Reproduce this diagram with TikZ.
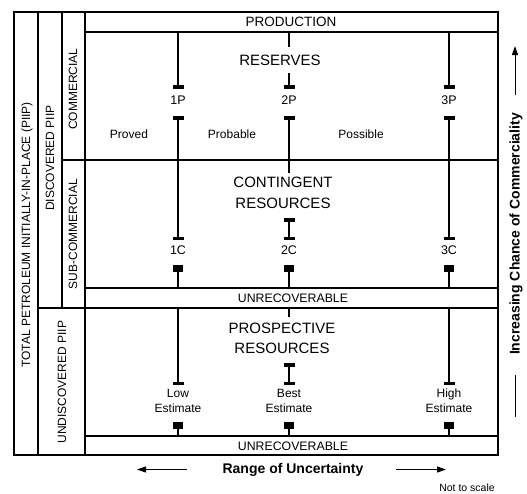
\documentclass[tikz,border=0pt]{standalone}
\usepackage{fontspec}
\setmainfont{Liberation Sans}
\usetikzlibrary{arrows.meta}
\begin{document}
\begin{tikzpicture}[x=1pt,y=-1pt,
  frame/.style={line width=1.6pt},
  bar/.style={line width=2pt},
  txt/.style={inner sep=0pt, font=\fontsize{12}{15}\selectfont, align=center},
  side/.style={inner sep=0pt, rotate=90, font=\fontsize{12}{14}\selectfont},
  big/.style={inner sep=0pt, font=\fontsize{15}{20.5}\selectfont, align=center},
  head/.style={inner sep=0pt, font=\fontsize{12.3}{14}\selectfont},
  bold14/.style={inner sep=0pt, font=\fontsize{14}{16}\selectfont\bfseries},
  arr/.style={line width=1pt, -{Triangle[length=9pt,width=6pt]}},
  capA/.pic={\fill (-5.5,-2) rectangle (5.5,2);},
  capT/.pic={\fill (-5.5,-1.5) rectangle (5.5,1.5);},
  capB/.pic={\fill (-5,-3.5) rectangle (5,3.5);}
]
\useasboundingbox (0,0) rectangle (527,493);

% frame
\draw[frame] (14,12) rectangle (498,455);
\draw[frame] (38,12) -- (38,455);
\draw[frame] (62,12) -- (62,308);
\draw[frame] (85,12) -- (85,455);
\draw[frame] (85,32) -- (498,32);
\draw[frame] (62,160) -- (498,160);
\draw[frame] (85,288) -- (498,288);
\draw[frame] (38,308) -- (498,308);
\draw[frame] (85,436) -- (498,436);

% side labels
\node[side] (piip) at (27,235) {TOTAL PETROLEUM INITIALLY-IN-PLACE (PIIP)};
\node[side] (disc) at (50,158) {DISCOVERED PIIP};
\node[side] (comm) at (73,89) {COMMERCIAL};
\node[side] (subc) at (73,234) {SUB-COMMERCIAL};
\node[side] (undisc) at (62,382) {UNDISCOVERED PIIP};

% row headers
\node[head, font=\fontsize{13.5}{15}\selectfont] (prod) at (291,22) {PRODUCTION};
\node[head] (unrec1) at (293,298) {UNRECOVERABLE};
\node[head] (unrec2) at (293,446) {UNRECOVERABLE};

% class labels
\node[big] (res) at (280,60) {RESERVES};
\node[big] (cont) at (283,193) {CONTINGENT\\RESOURCES};
\node[big] (prosp) at (282,338.5) {PROSPECTIVE\\RESOURCES};

% category labels
\node[txt, font=\fontsize{12.5}{15}\selectfont] (p1) at (178,100) {1P};
\node[txt, font=\fontsize{12.5}{15}\selectfont] (p2) at (289,100) {2P};
\node[txt, font=\fontsize{12.5}{15}\selectfont] (p3) at (449,100) {3P};
\node[txt, font=\fontsize{12.5}{15}\selectfont] (c1) at (178,250) {1C};
\node[txt, font=\fontsize{12.5}{15}\selectfont] (c2) at (289,250) {2C};
\node[txt, font=\fontsize{12.5}{15}\selectfont] (c3) at (449,250) {3C};
\node[txt] (proved) at (129,134) {Proved};
\node[txt] (probable) at (232,134) {Probable};
\node[txt] (possible) at (361,134) {Possible};
\node[txt, anchor=north] (low) at (178,388.7) {Low\\Estimate};
\node[txt, anchor=north] (best) at (289,388.7) {Best\\Estimate};
\node[txt, anchor=north] (high) at (449,388.7) {High\\Estimate};

% column 1 and 3
\foreach \x/\n in {178/a,449/c}{
  \draw[bar] (\x,32) coordinate (\n r0) -- (\x,87) coordinate (\n r1);
  \pic at (\n r1) {capA};
  \draw[bar] (\x,118) coordinate (\n r2) -- (\x,238) coordinate (\n r3);
  \pic at (\n r2) {capA};
  \pic at (\n r3) {capT};
  \draw[bar] (\x,268.5) coordinate (\n c0) -- (\x,288) coordinate (\n c1);
  \pic at (\n c0) {capB};
  \draw[bar] (\x,308) coordinate (\n p0) -- (\x,383) coordinate (\n p1);
  \pic at (\n p1) {capT};
  \draw[bar] (\x,425) coordinate (\n p2) -- (\x,436) coordinate (\n p3);
  \pic at (\n p2) {capB};
}

% column 2
\draw[bar] (289,32) coordinate (br0) -- (289,47) coordinate (br0b);
\draw[bar] (289,73) coordinate (br0c) -- (289,87) coordinate (br1);
\pic at (br1) {capA};
\draw[bar] (289,118) coordinate (br2) -- (289,173) coordinate (br2b);
\pic at (br2) {capA};
\draw[bar] (289,220) coordinate (br3a) -- (289,238) coordinate (br3);
\pic at (br3a) {capA};
\pic at (br3) {capT};
\draw[bar] (289,268.5) coordinate (bc0) -- (289,288) coordinate (bc1);
\pic at (bc0) {capB};
\draw[bar] (289,308) coordinate (bp0) -- (289,317) coordinate (bp0b);
\draw[bar] (289,365) coordinate (bp1a) -- (289,383) coordinate (bp1);
\pic at (bp1a) {capA};
\pic at (bp1) {capT};
\draw[bar] (289,425) coordinate (bp2) -- (289,436) coordinate (bp3);
\pic at (bp2) {capB};

% right axis
\node[bold14, rotate=90] (chance) at (516,234) {Increasing Chance of Commerciality};
\coordinate (up0) at (515,95);
\coordinate (up1) at (515,46);
\draw[arr] (up0) -- (up1);
\coordinate (dn0) at (515.5,375);
\coordinate (dn1) at (515.5,417);
\draw[line width=1pt] (dn0) -- (dn1);

% bottom axis
\node[bold14] (range) at (293,470) {Range of Uncertainty};
\coordinate (l0) at (187,469.5);
\coordinate (l1) at (137,469.5);
\draw[arr] (l0) -- (l1);
\coordinate (r0) at (396,469.5);
\coordinate (r1) at (446,469.5);
\draw[arr] (r0) -- (r1);
\node[inner sep=0pt, font=\fontsize{10.5}{12}\selectfont] (scale) at (467,488) {Not to scale};
\end{tikzpicture}
\end{document}
